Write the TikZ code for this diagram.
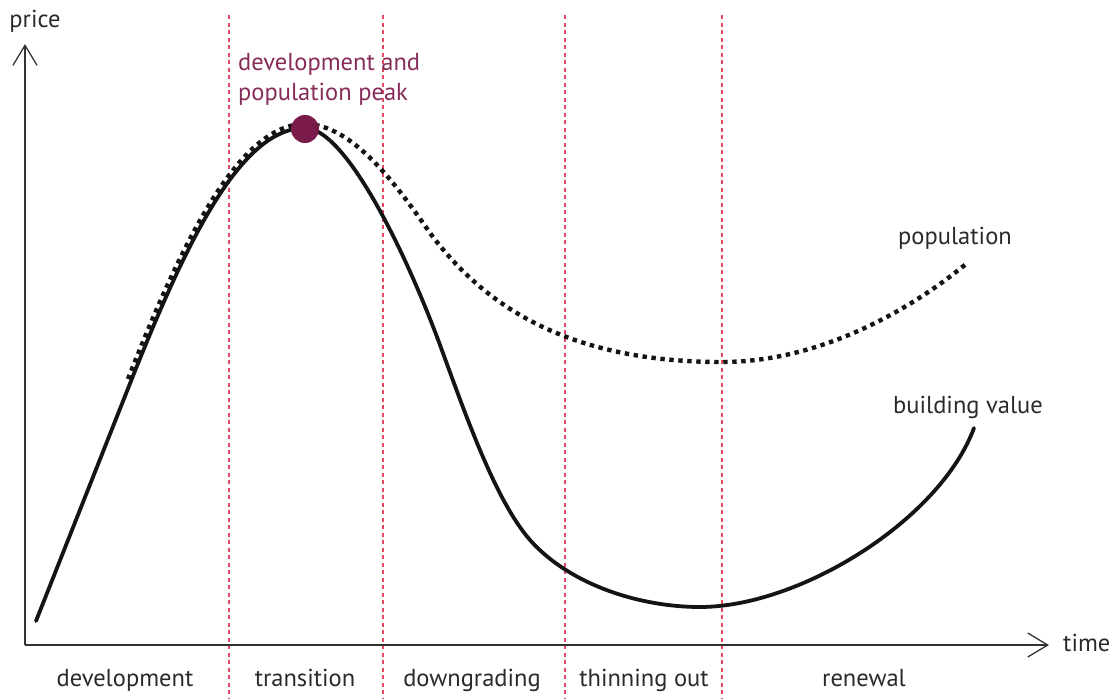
\documentclass[tikz,border=0pt]{standalone}
\usepackage{fontspec}
\setmainfont{PT Sans}
\usetikzlibrary{arrows.meta}
\definecolor{peak}{HTML}{7A1B4B}
\definecolor{peaktext}{HTML}{862C5A}
\definecolor{sep}{HTML}{E24A62}
\definecolor{axis}{HTML}{333333}
\definecolor{txt}{HTML}{2A2A2A}
\tikzset{
  axisline/.style={draw=axis, line width=1.3pt, -{Straight Barb[length=20pt,width=24pt]}},
  sepline/.style={draw=sep, line width=1.1pt, dash pattern=on 4pt off 3.5pt},
  building/.style={draw=black!92, line width=3.8pt, line cap=round},
  popul/.style={draw=black!92, line width=4.4pt, dash pattern=on 4.4pt off 4.6pt},
  lbl/.style={text=txt, font=\fontsize{24.5}{29}\selectfont, inner sep=0pt},
  peaklbl/.style={text=peaktext, font=\fontsize{24.5}{30}\selectfont, inner sep=0pt, align=left, anchor=west},
}
\begin{document}
\begin{tikzpicture}[x=1pt,y=-1pt]
\useasboundingbox (0,0) rectangle (1119,699);
% separators
\foreach \xx/\nm in {229/s1,383/s2,565/s3,722/s4}{
  \coordinate (\nm top) at (\xx,15);
  \coordinate (\nm bot) at (\xx,699);
  \draw[sepline] (\nm top) -- (\nm bot);
}
% axes
\coordinate (O) at (25,645);
\coordinate (ytop) at (25,44);
\coordinate (xend) at (1049,645);
\draw[axisline] (O) -- (ytop);
\draw[axisline] (O) -- (xend);
\node[lbl] (price) at (35,21) {price};
\node[lbl, anchor=west] (time) at (1063,643) {time};
% population (dotted)
\draw[popul] (128,379) .. controls (180,247) and (238,124) .. (305,124)
  .. controls (352,124) and (396,184) .. (430,233)
  .. controls (480,300) and (560,362) .. (722,362)
  .. controls (820,362) and (910,310) .. (966,264);
% building value (solid)
\draw[building] (36,621) -- (131,381)
  .. controls (185,245) and (240,128) .. (305,128)
  .. controls (345,128) and (405,250) .. (440,345)
  .. controls (465,413) and (495,500) .. (530,540)
  .. controls (570,585) and (640,607) .. (700,607)
  .. controls (800,607) and (940,520) .. (974,428);
% peak
\node[circle, fill=peak, minimum size=28pt, inner sep=0pt] (peakdot) at (305,129) {};
\node[peaklbl] (peaktxt) at (238,79) {development and\\population peak};
% curve labels
\node[lbl] (poplbl) at (955,238) {population};
\node[lbl] (bldlbl) at (968,407) {building value};
% phase labels
\node[lbl, anchor=base] (p1) at (125,686) {development};
\node[lbl, anchor=base] (p2) at (305,686) {transition};
\node[lbl, anchor=base] (p3) at (472,686) {downgrading};
\node[lbl, anchor=base] (p4) at (644,686) {thinning out};
\node[lbl, anchor=base] (p5) at (864,686) {renewal};
\end{tikzpicture}
\end{document}
